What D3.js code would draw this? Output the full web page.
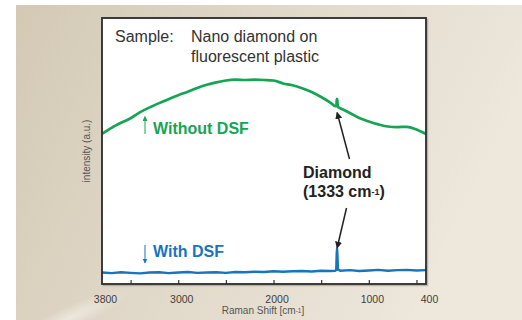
<!DOCTYPE html>
<html>
<head>
<meta charset="utf-8">
<script src="https://cdn.jsdelivr.net/npm/d3@7"></script>
<style>
  html, body { margin: 0; padding: 0; background: #fff; }
  svg { display: block; font-family: "Liberation Sans", Arial, Helvetica, sans-serif; }
</style>
</head>
<body>
<svg id="chart"></svg>
<script>
// raman shift values (cm-1), intensity in arbitrary units
const greenShift = [3800, 3700, 3600, 3500, 3400, 3300, 3200, 3100, 3000, 2900, 2800, 2700, 2600, 2500, 2400, 2300, 2200, 2100, 2000, 1900, 1800, 1700, 1600, 1500, 1400, 1350, 1340, 1336, 1333, 1330, 1325, 1300, 1200, 1100, 1000, 900, 800, 700, 600, 500, 400];
const greenValue = [56.4, 58.7, 60.6, 62.3, 64.6, 66.4, 68.0, 69.5, 71.0, 72.3, 73.7, 74.9, 75.8, 76.5, 76.8, 76.7, 76.8, 76.7, 76.5, 75.4, 74.7, 73.6, 72.2, 70.3, 68.1, 66.9, 67.0, 69.3, 69.6, 68.8, 66.5, 66.1, 64.3, 62.4, 61.1, 60.0, 59.2, 59.0, 59.1, 58.1, 56.4];

const blueShift = [3800, 3700, 3600, 3500, 3400, 3300, 3200, 3100, 3000, 2900, 2800, 2700, 2600, 2500, 2400, 2300, 2200, 2100, 2000, 1900, 1800, 1700, 1600, 1500, 1400, 1350, 1342, 1337, 1333, 1329, 1324, 1300, 1200, 1100, 1000, 900, 800, 700, 600, 500, 400];
const blueValue = [4.3, 4.1, 4.4, 4.2, 4.0, 4.3, 4.4, 4.1, 4.3, 4.5, 4.2, 4.3, 4.4, 4.2, 4.5, 4.4, 4.6, 4.5, 4.8, 4.6, 4.8, 4.9, 4.7, 5.0, 4.9, 5.0, 5.3, 11.5, 13.2, 11.0, 5.4, 5.0, 5.2, 4.9, 5.1, 5.3, 5.0, 5.2, 5.3, 5.1, 5.2];

const minorTicks = [3500, 3000, 2500, 2000, 1500, 1000, 500];
const tickLabels = [3800, 3000, 2000, 1000, 400];
const peakShift = 1333;

const w = 522, h = 320;
const padLeft = 102, padRight = 426, padTop = 18, padBottom = 284;

const svg = d3.select("#chart").attr("width", w).attr("height", h);
const defs = svg.append("defs");

// beige paper background
const bg = defs.append("linearGradient").attr("id", "bg").attr("x1", "0").attr("x2", "1").attr("y1", "0").attr("y2", "0.3");
bg.append("stop").attr("offset", "0").attr("stop-color", "#d3c9b5");
bg.append("stop").attr("offset", "0.55").attr("stop-color", "#e2dacb");
bg.append("stop").attr("offset", "1").attr("stop-color", "#ede7dc");
const glow = defs.append("radialGradient").attr("id", "glow");
glow.append("stop").attr("offset", "0").attr("stop-color", "#f1ece3").attr("stop-opacity", 0.8);
glow.append("stop").attr("offset", "1").attr("stop-color", "#f1ece3").attr("stop-opacity", 0);

svg.append("rect").attr("x", 16).attr("y", 5).attr("width", w - 16).attr("height", h - 5).attr("fill", "url(#bg)");
svg.append("ellipse").attr("cx", 70).attr("cy", 318).attr("rx", 70).attr("ry", 12)
   .attr("transform", "rotate(-25 70 318)").attr("fill", "url(#glow)");

defs.append("clipPath").attr("id", "plot").append("rect")
   .attr("x", padLeft).attr("y", padTop).attr("width", padRight - padLeft).attr("height", padBottom - padTop);

// arrowheads
const mk = (id, color, size) => {
  defs.append("marker").attr("id", id).attr("viewBox", "0 0 10 10").attr("refX", 9).attr("refY", 5)
     .attr("markerWidth", size).attr("markerHeight", size).attr("orient", "auto-start-reverse")
     .attr("markerUnits", "userSpaceOnUse")
     .append("path").attr("d", "M0,0 L10,5 L0,10 z").attr("fill", color);
};
mk("ahBlack", "#222", 7);
mk("ahGreen", "#16a455", 5);
mk("ahBlue", "#1775be", 5);

const x = d3.scaleLinear().domain([3800, 400]).range([padLeft, padRight]);
const y = d3.scaleLinear().domain([0, 100]).range([padBottom, padTop]);

// plot box
svg.append("rect").attr("x", padLeft + 1.5).attr("y", padTop + 1.5).attr("width", padRight - padLeft).attr("height", padBottom - padTop)
   .attr("fill", "none").attr("stroke", "#9a9388").attr("stroke-width", 1.5).attr("opacity", 0.6);
svg.append("rect").attr("x", padLeft).attr("y", padTop).attr("width", padRight - padLeft).attr("height", padBottom - padTop)
   .attr("fill", "#fff");

const greenLine = d3.line().x(d => x(d[0])).y(d => y(d[1])).curve(d3.curveMonotoneX);
const blueLine = d3.line().x(d => x(d[0])).y(d => y(d[1]));

const g = svg.append("g").attr("clip-path", "url(#plot)");
g.append("path").datum(greenShift.map((s, i) => [s, greenValue[i]]))
   .attr("d", greenLine).attr("fill", "none").attr("stroke", "#16a455").attr("stroke-width", 2.7)
   .attr("stroke-linejoin", "round");
g.append("path").datum(blueShift.map((s, i) => [s, blueValue[i]]))
   .attr("d", blueLine).attr("fill", "none").attr("stroke", "#1775be").attr("stroke-width", 2.4)
   .attr("stroke-linejoin", "round");

// axis ticks (inside) and labels
svg.append("g").attr("transform", `translate(0,${padBottom})`)
   .call(d3.axisBottom(x).tickValues(minorTicks).tickSize(-4).tickFormat(""))
   .call(a => a.select(".domain").remove())
   .call(a => a.selectAll("line").attr("stroke", "#333").attr("stroke-width", 1.2));

svg.append("g").attr("transform", `translate(0,${padBottom})`)
   .call(d3.axisBottom(x).tickValues(tickLabels).tickSize(0).tickPadding(12).tickFormat(d3.format("d")))
   .call(a => a.select(".domain").remove())
   .call(a => a.selectAll("text").attr("dx", 3).attr("fill", "#3d3d3d").attr("font-size", 10.5)
      .attr("font-family", "'Liberation Sans', Arial, sans-serif"));

svg.append("rect").attr("x", padLeft).attr("y", padTop).attr("width", padRight - padLeft).attr("height", padBottom - padTop)
   .attr("fill", "none").attr("stroke", "#2b2b2b").attr("stroke-width", 1.8);

// axis titles
const xt = svg.append("text").attr("x", 263).attr("y", 314).attr("text-anchor", "middle")
   .attr("font-size", 10).attr("fill", "#555");
xt.append("tspan").text("Raman Shift [cm");
xt.append("tspan").attr("font-size", 6.5).attr("dy", -1.5).text("-1");
xt.append("tspan").attr("dy", 1.5).text("]");

svg.append("text").attr("transform", "translate(89.5,151) rotate(-90)").attr("text-anchor", "middle")
   .attr("font-size", 10).attr("fill", "#555").text("intensity (a.u.)");

// sample note
const note = svg.append("g").attr("fill", "#333").attr("font-size", 16);
note.append("text").attr("x", 115).attr("y", 42).text("Sample:");
note.append("text").attr("x", 191).attr("y", 42).text("Nano diamond on");
note.append("text").attr("x", 191).attr("y", 61.5).text("fluorescent plastic");

// series labels
svg.append("line").attr("x1", 145).attr("x2", 145).attr("y1", 134).attr("y2", 116.5)
   .attr("stroke", "#16a455").attr("stroke-width", 1).attr("marker-end", "url(#ahGreen)");
svg.append("text").attr("x", 153).attr("y", 134).attr("font-size", 16).attr("font-weight", "bold")
   .attr("fill", "#16a455").text("Without DSF");

svg.append("line").attr("x1", 145).attr("x2", 145).attr("y1", 245).attr("y2", 263)
   .attr("stroke", "#1775be").attr("stroke-width", 1).attr("marker-end", "url(#ahBlue)");
svg.append("text").attr("x", 153).attr("y", 257).attr("font-size", 16).attr("font-weight", "bold")
   .attr("fill", "#1775be").text("With DSF");

// diamond annotation
const dia = svg.append("g").attr("fill", "#222").attr("font-size", 16).attr("font-weight", "bold");
dia.append("text").attr("x", 303).attr("y", 178).text("Diamond");
const d2 = dia.append("text").attr("x", 303).attr("y", 197);
d2.append("tspan").text("(1333 cm");
d2.append("tspan").attr("font-size", 9).attr("dy", -2).text("-1");
d2.append("tspan").attr("dy", 2).text(")");

svg.append("line").attr("x1", 349.5).attr("y1", 159).attr("x2", x(peakShift)).attr("y2", 112.5)
   .attr("stroke", "#222").attr("stroke-width", 1.5).attr("marker-end", "url(#ahBlack)");
svg.append("line").attr("x1", 346.5).attr("y1", 208).attr("x2", x(peakShift)).attr("y2", 248)
   .attr("stroke", "#222").attr("stroke-width", 1.5).attr("marker-end", "url(#ahBlack)");
</script>
</body>
</html>
